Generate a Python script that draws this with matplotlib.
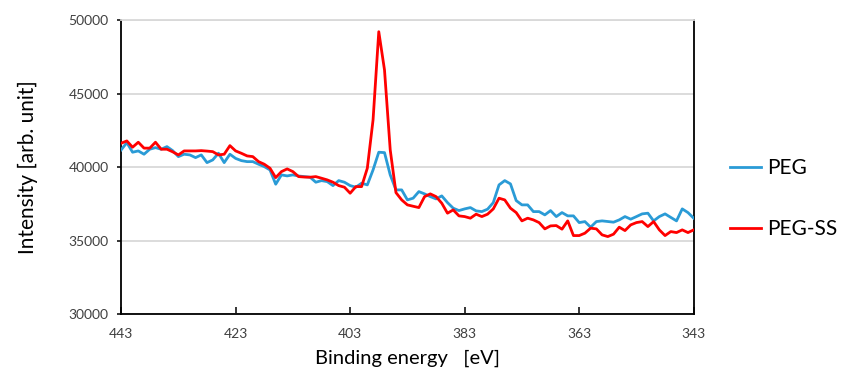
import matplotlib
matplotlib.use("Agg")
import matplotlib.pyplot as plt
import numpy as np

plt.rcParams['font.family'] = ['Lato', 'DejaVu Sans']

# Binding energy grid [eV], 443 -> 343 in 1 eV steps
energy = np.arange(443, 342, -1)

peg = [
    41178, 41675, 41022, 41110, 40885, 41226, 41335, 41226, 41403, 41130,
    40722, 40885, 40838, 40654, 40838, 40313, 40497, 40953, 40313, 40885,
    40600, 40449, 40381, 40381, 40204, 40041, 39816, 38842, 39476, 39408,
    39476, 39400, 39360, 39319, 38978, 39087, 39019, 38747, 39087, 38978,
    38747, 38638, 38910, 38795, 39816, 41022, 40994, 39476, 38454, 38454,
    37773, 37889, 38338, 38182, 37998, 37841, 38046, 37589, 37208, 37045,
    37160, 37249, 37024, 36976, 37140, 37589, 38795, 39087, 38863, 37726,
    37433, 37433, 36976, 36976, 36752, 37045, 36636, 36908, 36684, 36684,
    36227, 36295, 35914, 36295, 36343, 36300, 36254, 36411, 36636, 36459,
    36636, 36820, 36867, 36343, 36636, 36820, 36580, 36343, 37160, 36908,
    36527,
]

peg_ss = [
    41634, 41791, 41362, 41702, 41300, 41300, 41702, 41226, 41226, 41050,
    40838, 41110, 41110, 41110, 41130, 41100, 41062, 40838, 40885, 41471,
    41110, 40950, 40770, 40722, 40381, 40204, 39932, 39292, 39700, 39884,
    39700, 39360, 39330, 39319, 39360, 39250, 39135, 38978, 38747, 38638,
    38229, 38679, 38679, 39932, 43221, 49234, 46626, 41178, 38270, 37773,
    37433, 37340, 37249, 37998, 38182, 37998, 37548, 36867, 37092, 36684,
    36636, 36527, 36799, 36636, 36799, 37160, 37889, 37773, 37208, 36908,
    36343, 36527, 36411, 36227, 35798, 36002, 36023, 35778, 36343, 35342,
    35342, 35505, 35846, 35798, 35390, 35274, 35437, 35914, 35682, 36070,
    36227, 36295, 35955, 36295, 35730, 35342, 35614, 35546, 35730, 35546,
    35730,
]

x_ticks = [443, 423, 403, 383, 363, 343]
y_ticks = [30000, 35000, 40000, 45000, 50000]

fig = plt.figure(figsize=(8.47, 3.72), dpi=100)
ax = fig.add_axes([0.143, 0.156, 0.676, 0.789])

l1, = ax.plot(energy, peg, color='#2a9bd6', lw=2.0, label='PEG', zorder=3)
l2, = ax.plot(energy, peg_ss, color='#ff0000', lw=2.0, label='PEG-SS', zorder=4)

ax.set_xlim(443, 343)
ax.set_ylim(30000, 50000)
ax.set_xticks(x_ticks)
ax.set_yticks(y_ticks)
ax.yaxis.grid(True, color='#d9d9d9', lw=1.3)
ax.set_axisbelow(True)

for s in ['left', 'bottom', 'right']:
    ax.spines[s].set_color('black')
    ax.spines[s].set_linewidth(1.3)
ax.spines['top'].set_color('#d9d9d9')
ax.spines['top'].set_linewidth(1.3)

ax.tick_params(axis='x', direction='in', length=5, width=1.1, pad=10,
               labelsize=10, colors='black')
ax.tick_params(axis='y', direction='out', length=3, width=1.1, pad=6,
               labelsize=10, colors='black')
for lab in ax.get_xticklabels() + ax.get_yticklabels():
    lab.set_color('#404040')

ax.set_xlabel('Binding energy   [eV]', fontsize=14.5, labelpad=7)
ax.set_ylabel('Intensity [arb. unit]', fontsize=15, labelpad=22)

fig.legend(handles=[l1, l2], loc='center left', bbox_to_anchor=(0.840, 0.466),
           frameon=False, fontsize=15, handlelength=1.5, handletextpad=0.25,
           labelspacing=2.0, borderpad=0.4)

fig.savefig('out.png', dpi=100)
